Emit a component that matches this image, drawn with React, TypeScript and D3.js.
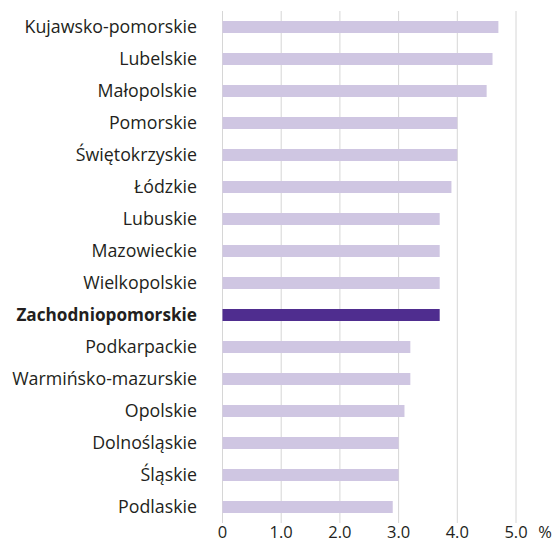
import React from 'react';
import * as d3 from 'd3';

const regions = [
  'Kujawsko-pomorskie', 'Lubelskie', 'Małopolskie', 'Pomorskie', 'Świętokrzyskie',
  'Łódzkie', 'Lubuskie', 'Mazowieckie', 'Wielkopolskie', 'Zachodniopomorskie',
  'Podkarpackie', 'Warmińsko-mazurskie', 'Opolskie', 'Dolnośląskie', 'Śląskie', 'Podlaskie',
];
const values = [4.7, 4.6, 4.5, 4.0, 4.0, 3.9, 3.7, 3.7, 3.7, 3.7, 3.2, 3.2, 3.1, 3.0, 3.0, 2.9];
const highlighted = 'Zachodniopomorskie';
const ticks = [0, 1, 2, 3, 4, 5];

const W = 553;
const H = 545;
const FONT = "'Open Sans', sans-serif";

const App = () => {
  const x = d3.scaleLinear().domain([0, 5]).range([222.5, 516]);
  const y = d3.scaleBand().domain(regions).range([11, 523]).paddingInner(0.625).paddingOuter(0.3125);

  return (
    <svg width={W} height={H} style={{ position: 'absolute', left: 0, top: 0 }}>
      <rect width={W} height={H} fill="#ffffff" />

      {/* grid */}
      {ticks.map(t => (
        <line key={t} x1={x(t)} x2={x(t)} y1={11} y2={523} stroke="#d6d6d6" strokeWidth={1} />
      ))}

      {/* bars */}
      {regions.map((r, i) => (
        <rect
          key={r}
          x={x(0)}
          y={y(r)}
          width={x(values[i]) - x(0)}
          height={y.bandwidth()}
          fill={r === highlighted ? '#4f2d8f' : '#cfc6e2'}
        />
      ))}

      {/* category labels */}
      {regions.map(r => (
        <text
          key={r}
          x={197}
          y={(y(r) ?? 0) + y.bandwidth() / 2}
          dy="0.36em"
          textAnchor="end"
          fontFamily={FONT}
          fontSize={r === highlighted ? 17.2 : 17.8}
          fontWeight={r === highlighted ? 700 : 400}
          fill="#231f20"
        >
          {r}
        </text>
      ))}

      {/* x tick labels */}
      {ticks.map(t => (
        <text key={t} x={x(t)} y={538} textAnchor="middle" fontFamily={FONT} fontSize={16.5} fill="#231f20">
          {t === 0 ? '0' : d3.format('.1f')(t)}
        </text>
      ))}
      <text x={545} y={538} textAnchor="middle" fontFamily={FONT} fontSize={16.5} fill="#231f20">%</text>
    </svg>
  );
};

export default App;
